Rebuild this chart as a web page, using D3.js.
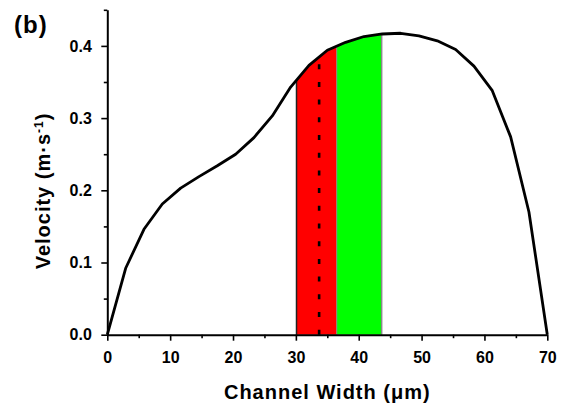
<!DOCTYPE html>
<html>
<head>
<meta charset="utf-8">
<script src="https://cdn.jsdelivr.net/npm/d3@7"></script>
<style>
  html, body { margin: 0; padding: 0; background: #fff; }
  svg { display: block; }
  text { font-family: Arial, "Liberation Sans", Helvetica, sans-serif; font-weight: bold; fill: #000; }
</style>
</head>
<body>
<script>
// ---- data ----
const channelWidth = [0, 2.92, 5.83, 8.75, 11.67, 14.58, 17.5, 20.42, 23.33, 26.25, 29.17, 32.08, 35, 37.92, 40.83, 43.75, 46.67, 49.58, 52.5, 55.42, 58.33, 61.25, 64.17, 67.08, 70];
const velocity = [0, 0.092, 0.146, 0.181, 0.203, 0.219, 0.234, 0.250, 0.273, 0.303, 0.343, 0.373, 0.394, 0.405, 0.413, 0.4165, 0.4175, 0.4138, 0.407, 0.395, 0.372, 0.338, 0.274, 0.170, 0];
const redBand = [30.1, 36.5];
const greenBand = [36.5, 43.65];
const dashX = 33.7;
const xMajorTicks = [0, 10, 20, 30, 40, 50, 60, 70];
const xMinorTicks = [5, 15, 25, 35, 45, 55, 65];
const yMajorTicks = [0.0, 0.1, 0.2, 0.3, 0.4];
const yMinorTicks = [0.05, 0.15, 0.25, 0.35, 0.45];

const W = 570, H = 410;
const svg = d3.select("body").append("svg").attr("width", W).attr("height", H);

const x = d3.scaleLinear().domain([0, 70]).range([107.3, 547.3]);
const y = d3.scaleLinear().domain([0, 0.45]).range([334.7, 9.8]);

const pts = channelWidth.map((d, i) => ({ x: d, v: velocity[i] }));
function vAt(xv) {
  for (let i = 0; i < pts.length - 1; i++) {
    const a = pts[i], b = pts[i + 1];
    if (xv >= a.x && xv <= b.x) return a.v + (b.v - a.v) * (xv - a.x) / (b.x - a.x);
  }
  return 0;
}
function bandPts(x0, x1) {
  return [{ x: x0, v: vAt(x0) }]
    .concat(pts.filter(p => p.x > x0 && p.x < x1))
    .concat([{ x: x1, v: vAt(x1) }]);
}
const area = d3.area().x(d => x(d.x)).y0(y(0)).y1(d => y(d.v));

// bands
svg.append("path").datum(bandPts(redBand[0], redBand[1])).attr("d", area).attr("fill", "#ff0000");
svg.append("path").datum(bandPts(greenBand[0], greenBand[1])).attr("d", area).attr("fill", "#00ff00");
// band edges
svg.append("line").attr("x1", x(redBand[0])).attr("x2", x(redBand[0]))
  .attr("y1", y(0)).attr("y2", y(vAt(redBand[0]))).attr("stroke", "#222").attr("stroke-width", 1.5);
svg.append("line").attr("x1", x(redBand[1])).attr("x2", x(redBand[1]))
  .attr("y1", y(0)).attr("y2", y(vAt(redBand[1]))).attr("stroke", "#888").attr("stroke-width", 1);
svg.append("line").attr("x1", x(greenBand[1])).attr("x2", x(greenBand[1]))
  .attr("y1", y(0)).attr("y2", y(vAt(greenBand[1]))).attr("stroke", "#888").attr("stroke-width", 1.5);

// dashed line
svg.append("line").attr("x1", x(dashX)).attr("x2", x(dashX))
  .attr("y1", y(0)).attr("y2", y(vAt(dashX)) + 6)
  .attr("stroke", "#000").attr("stroke-width", 2.6).attr("stroke-dasharray", "5,12.7");

// curve
svg.append("path").datum(pts)
  .attr("d", d3.line().x(d => x(d.x)).y(d => y(d.v)))
  .attr("fill", "none").attr("stroke", "#000").attr("stroke-width", 2.8).attr("stroke-linejoin", "round");

// axes
function styleAxis(g) {
  g.select(".domain").attr("stroke", "#000").attr("stroke-width", 2);
  g.selectAll(".tick line").attr("stroke", "#000").attr("stroke-width", 1.6);
  g.selectAll(".tick text").style("font-size", "16px").style("font-family", "Arial, 'Liberation Sans', sans-serif").style("font-weight", "bold").attr("fill", "#000");
}
const gxMinor = svg.append("g").attr("transform", `translate(0,${y(0)})`)
  .call(d3.axisBottom(x).tickValues(xMinorTicks).tickSize(3.5).tickFormat(""));
gxMinor.select(".domain").remove();
gxMinor.selectAll(".tick line").attr("stroke", "#000").attr("stroke-width", 1.6);
const gx = svg.append("g").attr("transform", `translate(0,${y(0)})`)
  .call(d3.axisBottom(x).tickValues(xMajorTicks).tickSize(6).tickSizeOuter(0).tickPadding(11).tickFormat(d3.format("d")));
styleAxis(gx);

const gyMinor = svg.append("g").attr("transform", `translate(${x(0)},0)`)
  .call(d3.axisLeft(y).tickValues(yMinorTicks).tickSize(3.5).tickFormat(""));
gyMinor.select(".domain").remove();
gyMinor.selectAll(".tick line").attr("stroke", "#000").attr("stroke-width", 1.6);
const gy = svg.append("g").attr("transform", `translate(${x(0)},0)`)
  .call(d3.axisLeft(y).tickValues(yMajorTicks).tickSize(6).tickSizeOuter(0).tickPadding(9.5).tickFormat(d3.format(".1f")));
styleAxis(gy);

// titles
svg.append("text").attr("x", (x(0) + x(70)) / 2).attr("y", 398.5)
  .attr("text-anchor", "middle").style("font-size", "20px").style("letter-spacing", "1px")
  .text("Channel Width (μm)");

const yt = svg.append("text").attr("transform", "translate(50,191) rotate(-90)")
  .attr("text-anchor", "middle").style("font-size", "20px").style("letter-spacing", "1px");
yt.append("tspan").text("Velocity (m·s");
yt.append("tspan").attr("dy", -7).style("font-size", "12px").text("-1");
yt.append("tspan").attr("dy", 7).text(")");

svg.append("text").attr("x", 14).attr("y", 33).style("font-size", "24px").style("letter-spacing", "1px").text("(b)");
</script>
</body>
</html>
